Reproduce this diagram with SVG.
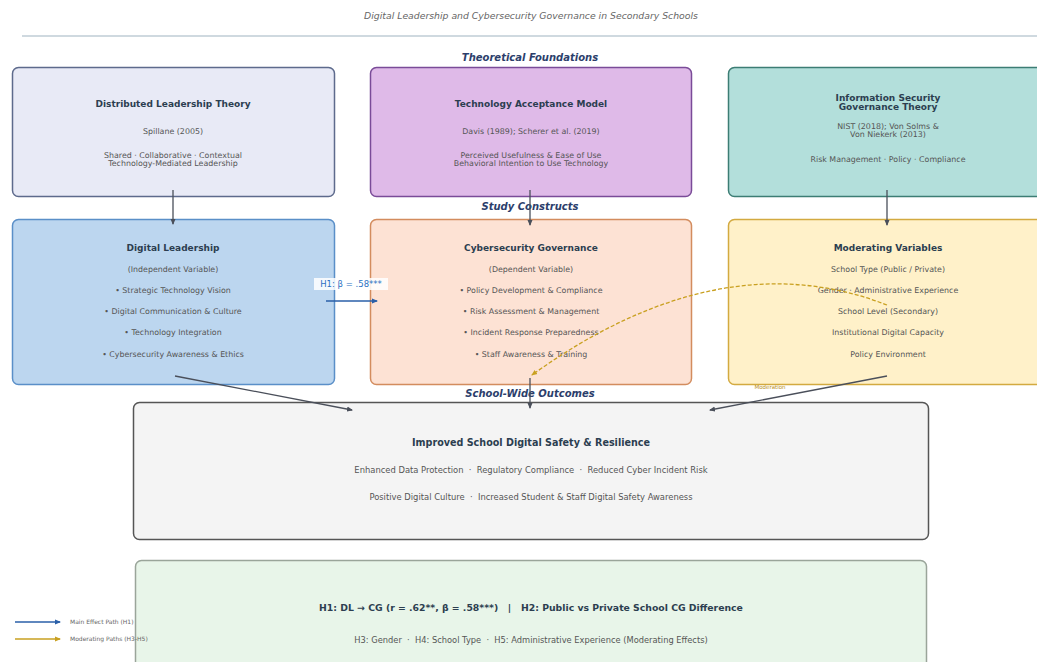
<svg xmlns="http://www.w3.org/2000/svg" width="1037" height="662" viewBox="0 0 1037 662">
<style>
text{font-family:"DejaVu Sans","Liberation Sans",sans-serif;text-anchor:middle}
.ttl{font-size:9.3px;font-style:italic;fill:#666}
.sec{font-size:10px;font-weight:bold;font-style:italic;fill:#2c3e6b}
.h{font-size:9px;font-weight:bold;fill:#2c3e50}
.b{font-size:7.9px;fill:#555}
.pre{white-space:pre}
.box{stroke-width:1.5}
.con{stroke:#4a4f5a;stroke-width:1.3;fill:none}
.lg{font-size:6px;fill:#666;text-anchor:start}
</style>
<defs>
<marker id="ah" markerWidth="6" markerHeight="6" refX="5" refY="3" orient="auto" markerUnits="userSpaceOnUse"><path d="M0,0.5 L6,3 L0,5.5 z" fill="#4a4f5a"/></marker>
<marker id="ahb" markerWidth="6" markerHeight="6" refX="5" refY="3" orient="auto" markerUnits="userSpaceOnUse"><path d="M0,0.5 L6,3 L0,5.5 z" fill="#2a5fa8"/></marker>
<marker id="ahy" markerWidth="6" markerHeight="6" refX="5" refY="3" orient="auto" markerUnits="userSpaceOnUse"><path d="M0,0.5 L6,3 L0,5.5 z" fill="#c9a020"/></marker>
</defs>
<rect width="1037" height="662" fill="#ffffff"/>
<text class="ttl" x="531" y="19">Digital Leadership and Cybersecurity Governance in Secondary Schools</text>
<line x1="22" y1="36" x2="1037" y2="36" stroke="#9fb3c0" stroke-width="1"/>
<text class="sec" x="530" y="61">Theoretical Foundations</text>
<text class="sec" x="530" y="210">Study Constructs</text>
<text class="sec" x="530" y="397">School-Wide Outcomes</text>

<g id="node-dlt">
<rect class="box" x="12.5" y="67.5" width="322" height="129" rx="6" fill="#e8eaf6" stroke="#5d6a8c"/>
<text class="h" x="173" y="107">Distributed Leadership Theory</text>
<text class="b" x="173" y="134">Spillane (2005)</text>
<text class="b" x="173" y="158">Shared · Collaborative · Contextual</text>
<text class="b" x="173" y="166">Technology-Mediated Leadership</text>
</g>
<g id="node-tam">
<rect class="box" x="370.5" y="67.5" width="321" height="129" rx="6" fill="#dfbae8" stroke="#7a4b98"/>
<text class="h" x="531" y="107" fill="#3d2a5a">Technology Acceptance Model</text>
<text class="b" x="531" y="134" fill="#6a4a7a">Davis (1989); Scherer et al. (2019)</text>
<text class="b" x="531" y="158" fill="#6a4a7a">Perceived Usefulness &amp; Ease of Use</text>
<text class="b" x="531" y="166" fill="#6a4a7a">Behavioral Intention to Use Technology</text>
</g>
<g id="node-isg">
<rect class="box" x="728.5" y="67.5" width="320" height="129" rx="6" fill="#b3dfdb" stroke="#3c7d74"/>
<text class="h" x="888" y="101">Information Security</text>
<text class="h" x="888" y="110">Governance Theory</text>
<text class="b" x="888" y="129">NIST (2018); Von Solms &amp;</text>
<text class="b" x="888" y="137">Von Niekerk (2013)</text>
<text class="b" x="888" y="162">Risk Management · Policy · Compliance</text>
</g>

<g id="node-dl">
<rect class="box" x="12.5" y="219.5" width="322" height="165" rx="6" fill="#bcd6ef" stroke="#5a8fc8"/>
<text class="h" x="173" y="251" fill="#22406e">Digital Leadership</text>
<text class="b" x="173" y="272">(Independent Variable)</text>
<text class="b" x="173" y="293">• Strategic Technology Vision</text>
<text class="b" x="173" y="314">• Digital Communication &amp; Culture</text>
<text class="b" x="173" y="335">• Technology Integration</text>
<text class="b" x="173" y="357">• Cybersecurity Awareness &amp; Ethics</text>
</g>
<g id="node-cg">
<rect class="box" x="370.5" y="219.5" width="321" height="165" rx="6" fill="#fde2d4" stroke="#d38c5e"/>
<text class="h" x="531" y="251">Cybersecurity Governance</text>
<text class="b" x="531" y="272">(Dependent Variable)</text>
<text class="b" x="531" y="293">• Policy Development &amp; Compliance</text>
<text class="b" x="531" y="314">• Risk Assessment &amp; Management</text>
<text class="b" x="531" y="335">• Incident Response Preparedness</text>
<text class="b" x="531" y="357">• Staff Awareness &amp; Training</text>
</g>
<g id="node-mod">
<rect class="box" x="728.5" y="219.5" width="320" height="165" rx="6" fill="#fff1c9" stroke="#d3aa40"/>
<text class="h" x="888" y="251">Moderating Variables</text>
<text class="b" x="888" y="272">School Type (Public / Private)</text>
<text class="b" x="888" y="293">Gender · Administrative Experience</text>
<text class="b" x="888" y="314">School Level (Secondary)</text>
<text class="b" x="888" y="335">Institutional Digital Capacity</text>
<text class="b" x="888" y="357">Policy Environment</text>
</g>

<g id="node-out">
<rect class="box" x="133.5" y="402.5" width="795" height="137" rx="6" fill="#f4f4f4" stroke="#555555"/>
<text class="h" x="531" y="446" fill="#333" style="font-size:9.6px">Improved School Digital Safety &amp; Resilience</text>
<text class="b pre" x="531" y="473" style="font-size:8.4px">Enhanced Data Protection  ·  Regulatory Compliance  ·  Reduced Cyber Incident Risk</text>
<text class="b pre" x="531" y="500" style="font-size:8.4px">Positive Digital Culture  ·  Increased Student &amp; Staff Digital Safety Awareness</text>
</g>
<g id="node-hyp">
<rect class="box" x="135.5" y="560.5" width="791" height="110" rx="6" fill="#e8f5e9" stroke="#9aa59a"/>
<text class="h pre" x="531" y="611" fill="#2e5a2e" style="font-size:9.3px">H1: DL → CG (r = .62**, β = .58***)   |   H2: Public vs Private School CG Difference</text>
<text class="b pre" x="531" y="643" fill="#4a6a4a" style="font-size:8.3px">H3: Gender  ·  H4: School Type  ·  H5: Administrative Experience (Moderating Effects)</text>
</g>

<g id="connectors">
<line class="con" x1="173" y1="190" x2="173" y2="224" marker-end="url(#ah)"/>
<line class="con" x1="530" y1="190" x2="530" y2="225" marker-end="url(#ah)"/>
<line class="con" x1="887" y1="190" x2="887" y2="225" marker-end="url(#ah)"/>
<line x1="326" y1="301" x2="377" y2="301" stroke="#2a5fa8" stroke-width="1.5" marker-end="url(#ahb)"/>
<rect x="314" y="278" width="74" height="12" fill="#ffffff" opacity="0.85"/>
<text x="351" y="287" style="font-size:8.5px;fill:#2a6fc2">H1: β = .58***</text>
<path d="M887,305 Q720,240 532,375" fill="none" stroke="#c9a020" stroke-width="1.3" stroke-dasharray="4,2" marker-end="url(#ahy)"/>
<text x="770" y="389" style="font-size:5.5px;fill:#b8901a">Moderation</text>
<line class="con" x1="175" y1="376" x2="352" y2="410" marker-end="url(#ah)"/>
<line class="con" x1="530" y1="378" x2="530" y2="408" marker-end="url(#ah)"/>
<line class="con" x1="887" y1="376" x2="710" y2="410" marker-end="url(#ah)"/>
</g>

<g id="legend">
<line x1="15" y1="622" x2="60" y2="622" stroke="#2a5fa8" stroke-width="1.3" marker-end="url(#ahb)"/>
<text class="lg" x="70" y="624">Main Effect Path (H1)</text>
<line x1="15" y1="639" x2="60" y2="639" stroke="#c9a020" stroke-width="1.3" marker-end="url(#ahy)"/>
<text class="lg" x="70" y="641">Moderating Paths (H3-H5)</text>
</g>
</svg>
